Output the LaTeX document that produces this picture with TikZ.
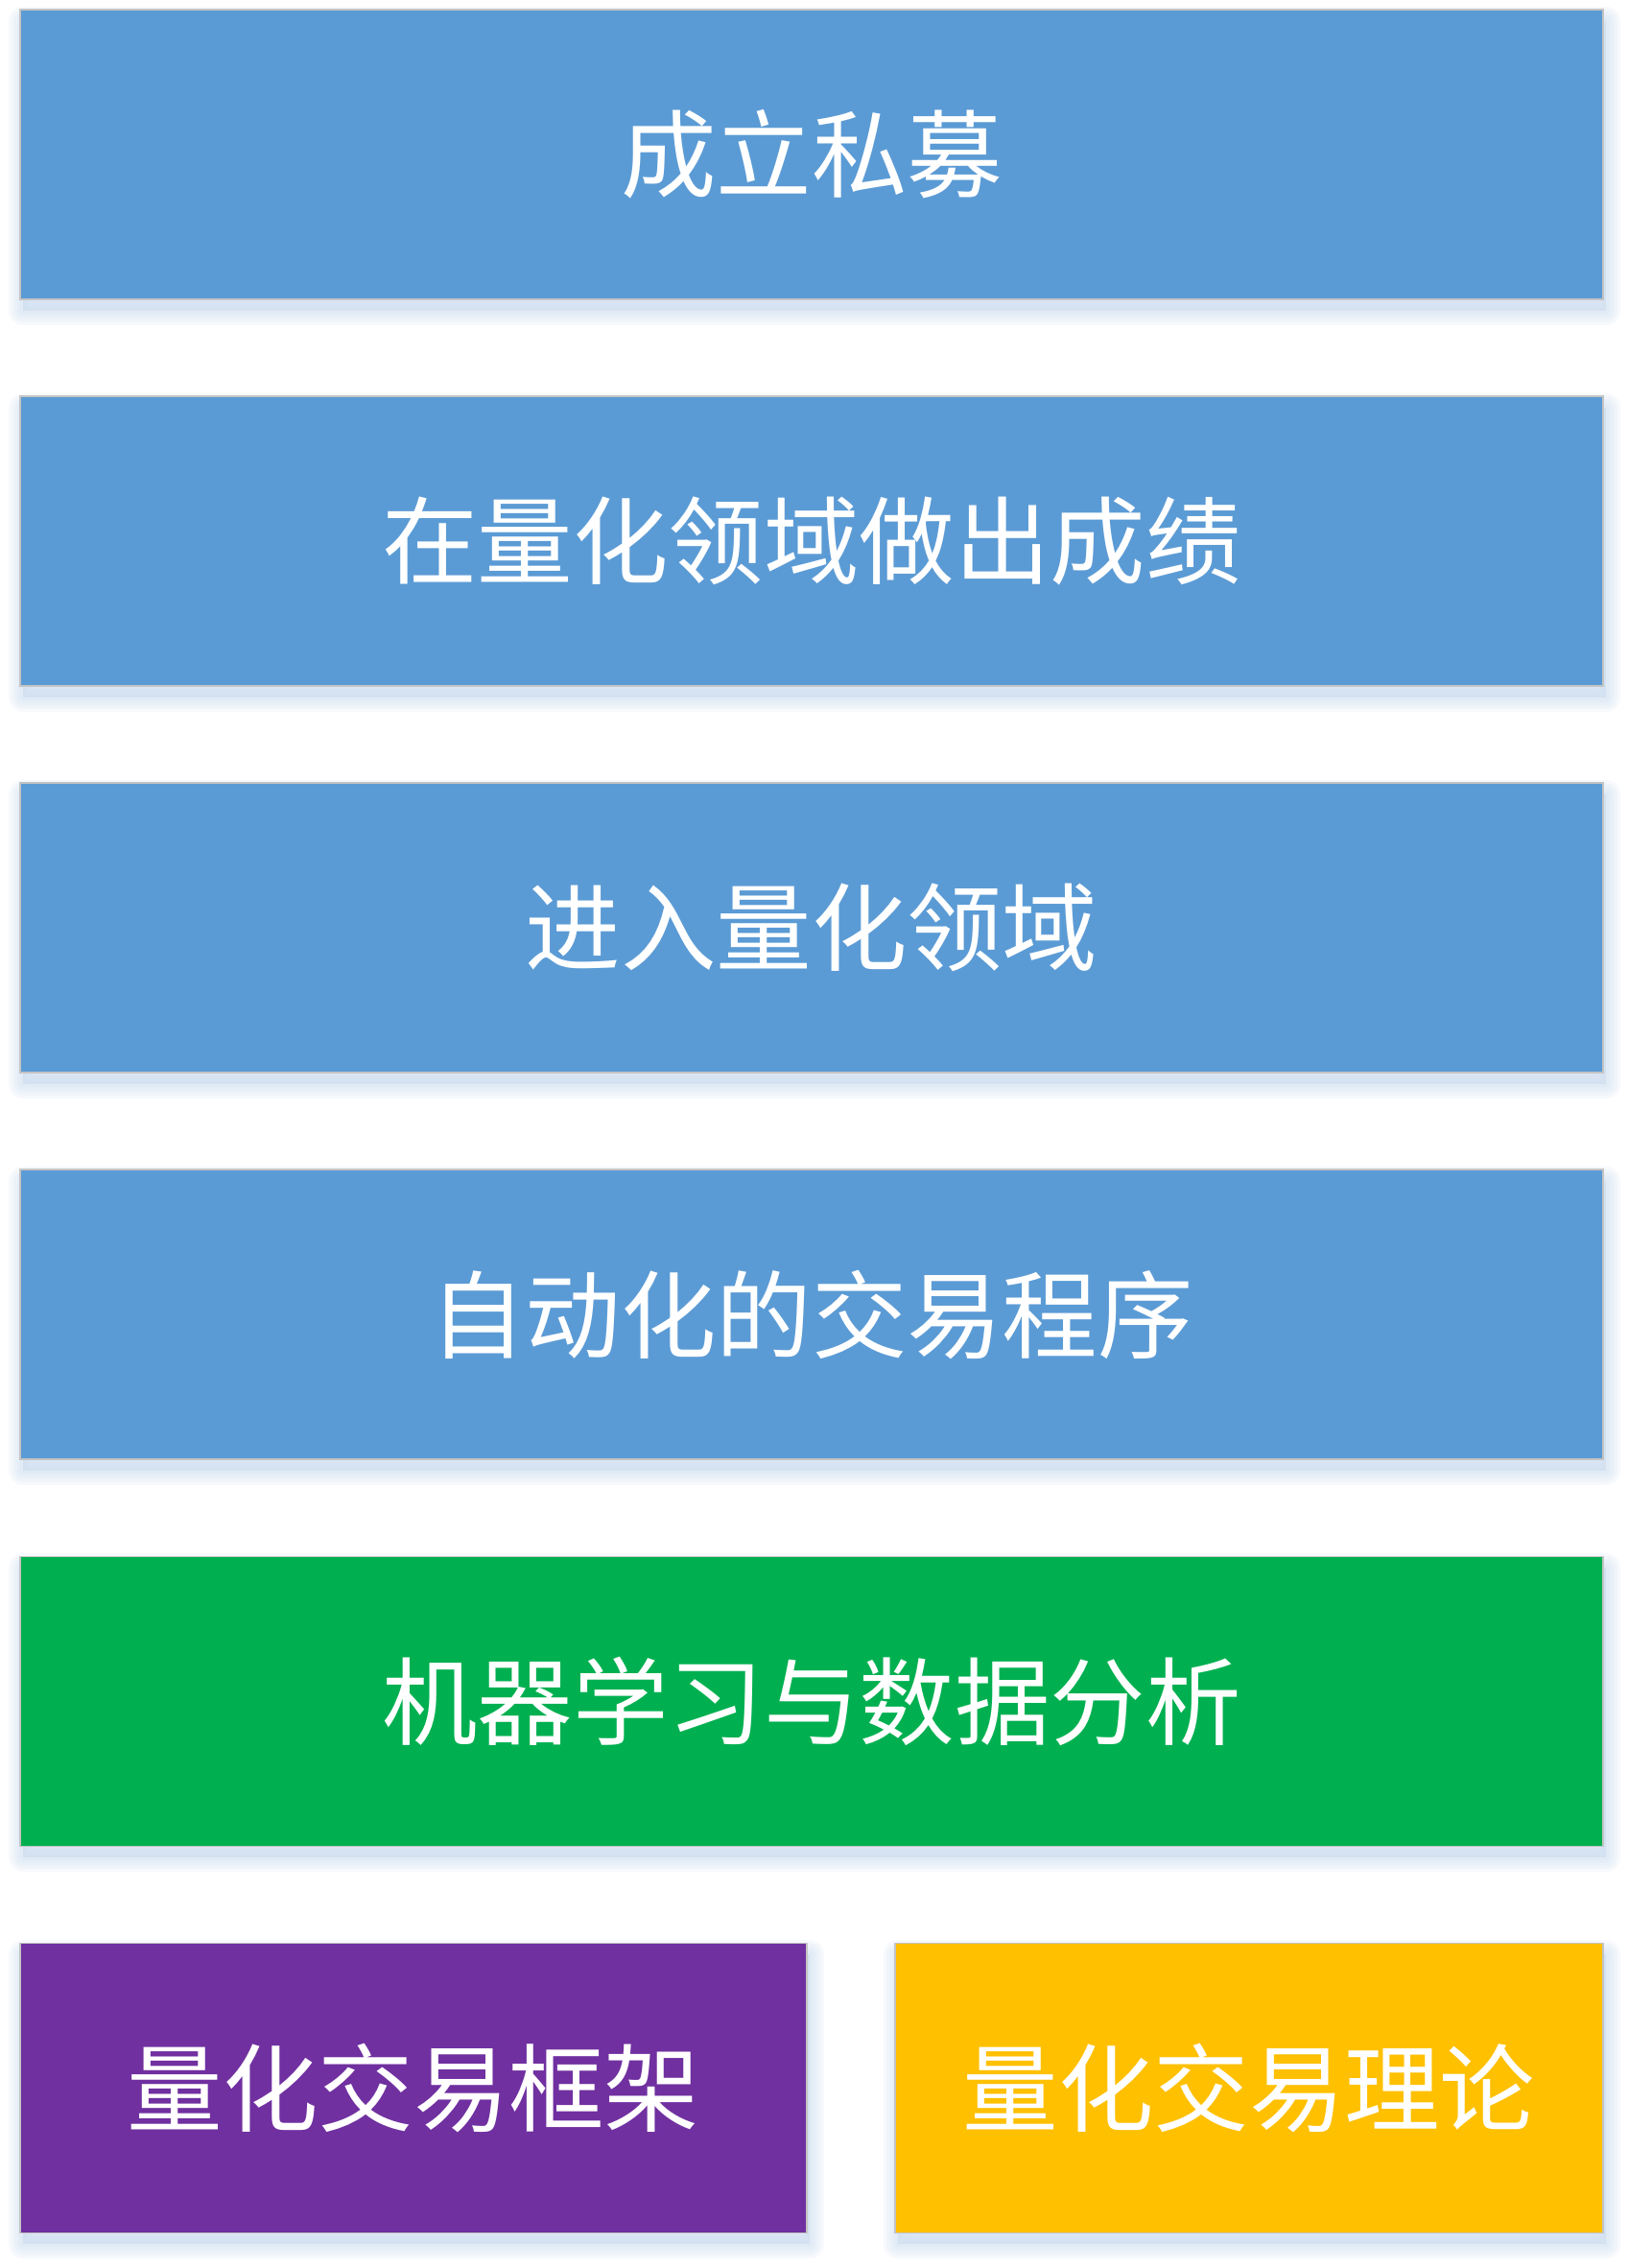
\documentclass[tikz,border=0pt]{standalone}
\usepackage{fontspec}
\newfontfamily\cjk{Noto Sans CJK SC}
\usetikzlibrary{positioning}
\definecolor{stepblue}{HTML}{5B9BD5}
\definecolor{stepgreen}{HTML}{00B050}
\definecolor{steppurple}{HTML}{7030A0}
\definecolor{stepyellow}{HTML}{FFC000}
\definecolor{boxline}{HTML}{C4C4C4}
\definecolor{shadowblue}{HTML}{C9DAEE}

\begin{document}
\begin{tikzpicture}[node distance=9.95mm,
every node/.style={font=\cjk\fontsize{28.3pt}{30pt}\selectfont,text=white},
glow/.style={preaction={fill=shadowblue,draw=shadowblue,opacity=0.15,line width=#1,
    line join=round,transform canvas={xshift=0.3mm,yshift=-1.2mm}}},
level/.style={rectangle,draw=boxline,line width=0.45pt,inner sep=0pt,
    minimum height=30.2mm,glow=3mm,glow=2.4mm,glow=1.8mm,glow=1.2mm,glow=0.6mm},
wide/.style={level,minimum width=165mm},
blue/.style ={fill=stepblue},
green/.style={fill=stepgreen}
    ]
\useasboundingbox (0,0) rectangle (169.7mm,-236.4mm);
\node[wide,blue](SiMu) at (84.6mm,-16.1mm) {成立私募};
\node[wide,blue](ChengJi) [below=of SiMu] {在量化领域做出成绩};
\node[wide,blue](JinRu) [below=of ChengJi] {进入量化领域};
\node[wide,blue](ChengXu) [below=of JinRu] {自动化的交易程序};
\node[wide,green](JiQi) [below=of ChengXu] {机器学习与数据分析};
\node[level,fill=steppurple,minimum width=82mm](KuangJia) [below right=9.95mm and 0mm of JiQi.south west] {量化交易框架};
\node[level,fill=stepyellow,minimum width=73.8mm](LiLun) [below left=9.95mm and 0mm of JiQi.south east] {量化交易理论};
\end{tikzpicture}
\end{document}
